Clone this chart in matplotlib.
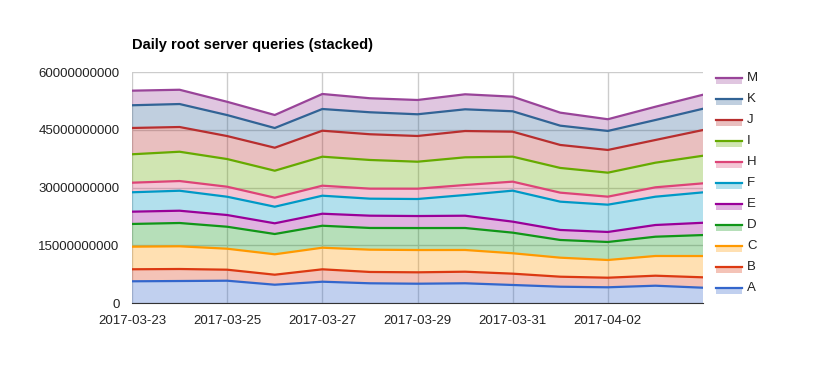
import numpy as np
import matplotlib.pyplot as plt
from matplotlib.lines import Line2D
from matplotlib.patches import Rectangle

plt.rcParams['font.family'] = ['Liberation Sans', 'DejaVu Sans']

dates = ['2017-03-23', '2017-03-24', '2017-03-25', '2017-03-26', '2017-03-27',
         '2017-03-28', '2017-03-29', '2017-03-30', '2017-03-31', '2017-04-01',
         '2017-04-02', '2017-04-03', '2017-04-04']

# daily queries per root server, in units of 1e9
A = [5.64, 5.71, 5.79, 4.75, 5.53, 5.12, 5.01, 5.12, 4.68, 4.23, 4.08, 4.49, 3.97]
B = [3.12, 3.12, 2.86, 2.60, 3.22, 2.94, 2.96, 3.01, 2.94, 2.60, 2.49, 2.60, 2.70]
C = [5.87, 5.90, 5.45, 5.30, 5.61, 5.79, 5.79, 5.64, 5.30, 4.94, 4.60, 5.12, 5.53]
D = [5.90, 6.05, 5.71, 5.27, 5.71, 5.64, 5.71, 5.71, 5.35, 4.60, 4.68, 5.01, 5.45]
E = [3.19, 3.19, 3.04, 2.78, 3.12, 3.19, 3.12, 3.19, 2.86, 2.60, 2.60, 3.04, 3.19]
F = [5.04, 5.19, 4.75, 4.31, 4.68, 4.42, 4.42, 5.38, 8.05, 7.35, 7.09, 7.35, 7.90]
H = [2.49, 2.52, 2.60, 2.34, 2.60, 2.60, 2.68, 2.60, 2.34, 2.34, 2.08, 2.44, 2.34]
I = [7.38, 7.61, 7.19, 7.01, 7.53, 7.45, 7.01, 7.19, 6.49, 6.42, 6.23, 6.39, 7.17]
J = [6.83, 6.42, 5.97, 5.97, 6.75, 6.68, 6.68, 6.83, 6.49, 5.97, 5.90, 5.90, 6.68]
K = [5.90, 5.97, 5.45, 5.12, 5.64, 5.71, 5.64, 5.64, 5.30, 5.01, 4.94, 5.19, 5.53]
M = [3.79, 3.71, 3.45, 3.38, 3.90, 3.64, 3.71, 3.90, 3.79, 3.38, 3.04, 3.45, 3.64]

names = ['A', 'B', 'C', 'D', 'E', 'F', 'H', 'I', 'J', 'K', 'M']
series = [A, B, C, D, E, F, H, I, J, K, M]
colors = ['#3366cc', '#dc3912', '#ff9900', '#109618', '#990099', '#0099c6',
          '#dd4477', '#66aa00', '#b82e2e', '#316395', '#994499']

yticks = [0, 15e9, 30e9, 45e9, 60e9]
xticks = ['2017-03-23', '2017-03-25', '2017-03-27', '2017-03-29', '2017-03-31', '2017-04-02']

x = np.array(dates, dtype='datetime64[D]').astype('O')
vals = np.array(series) * 1e9
tops = np.cumsum(vals, axis=0)

fig = plt.figure(figsize=(8.33, 3.75), dpi=100)
ax = fig.add_axes([132/833, 1-303/375, (703-132)/833, (303-72)/375])

ax.stackplot(x, vals, colors=colors, alpha=0.3, linewidth=0)
for t, c in zip(tops, colors):
    ax.plot(x, t, color=c, lw=1.6, solid_joinstyle='round', zorder=3)

ax.set_xlim(x[0], x[-1])
ax.set_ylim(0, 60e9)
ax.set_yticks(yticks)
ax.set_yticklabels(['%d' % v for v in yticks])
xt = np.array(xticks, dtype='datetime64[D]').astype('O')
ax.set_xticks(xt)
ax.set_xticklabels(xticks)
ax.grid(True, color='#cccccc', lw=1)
ax.set_axisbelow(True)
for s in ['top', 'right', 'left']:
    ax.spines[s].set_visible(False)
ax.spines['bottom'].set_color('#333333')
ax.tick_params(length=0, labelsize=9.5, colors='#222222')
ax.tick_params(axis='y', pad=9)
ax.tick_params(axis='x', pad=9)

fig.text(132/833, 1-45/375, 'Daily root server queries (stacked)', fontsize=10.5,
         fontweight='bold', va='center', ha='left')

# legend, top entry is the last series
for k, (n, c) in enumerate(zip(names[::-1], colors[::-1])):
    yc = 1 - (78 + k*21)/375
    fig.add_artist(Rectangle((716/833, yc - 6/375), 26/833, 6/375,
                             transform=fig.transFigure, facecolor=c, alpha=0.3, lw=0))
    fig.add_artist(Line2D([716/833, 742/833], [yc, yc], transform=fig.transFigure,
                          color=c, lw=1.6))
    fig.text(747/833, yc, n, fontsize=9.5, va='center', ha='left', color='#222222')

fig.savefig('out.png', dpi=100)
